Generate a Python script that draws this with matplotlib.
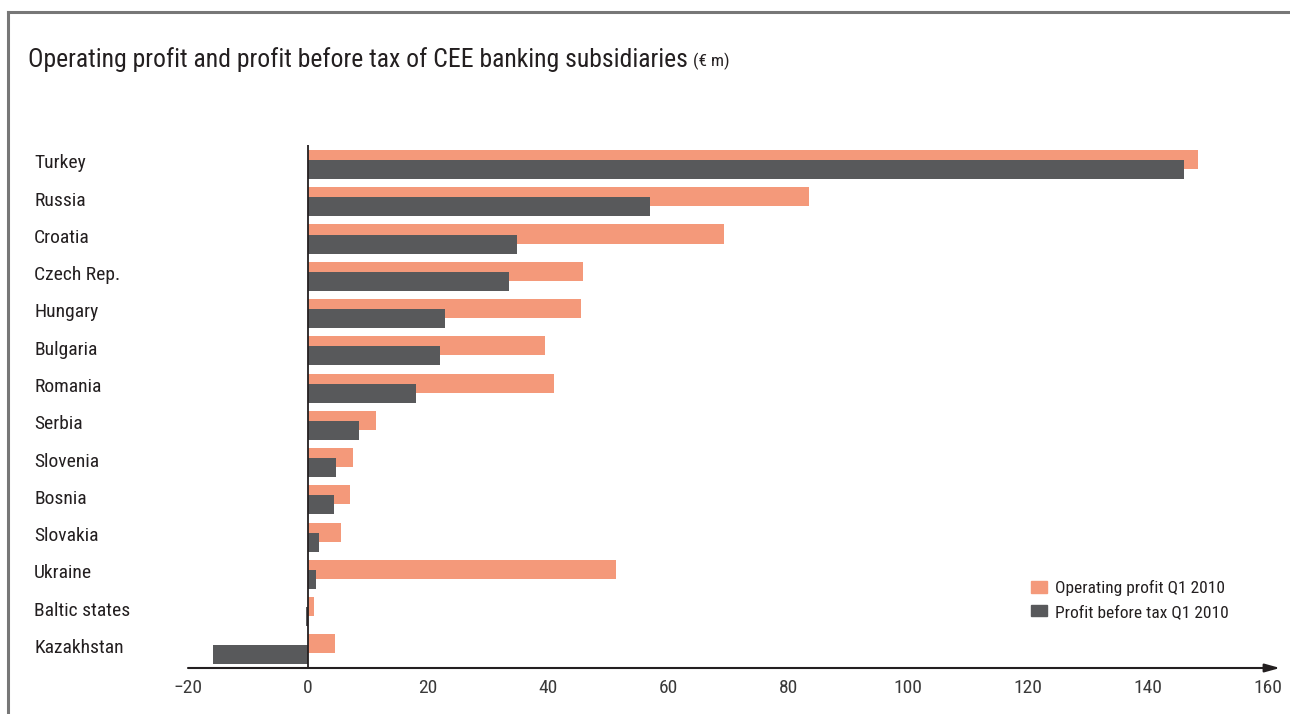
import matplotlib
matplotlib.use("Agg")
import matplotlib.pyplot as plt
from matplotlib import font_manager as fm
from matplotlib.font_manager import FontProperties
from matplotlib.patches import Patch
from matplotlib.lines import Line2D
import matplotlib.transforms as mtrans

# ---- pick a condensed sans font if one is installed ----
def pick_font():
    entries = fm.fontManager.ttflist
    prefs = [
        lambda f: f.name == "Liberation Sans Narrow" and f.weight in (400, "normal", "regular") and f.style == "normal",
        lambda f: f.name == "Roboto Condensed" and f.style == "normal" and f.weight in (400, "normal", "regular"),
        lambda f: f.name.startswith("Roboto") and "ondensed" in f.fname and f.style == "normal" and "Bold" not in f.fname and "Light" not in f.fname and "Italic" not in f.fname,
        lambda f: f.name.startswith("Noto Sans") and f.stretch in ("condensed", "semi-condensed") and f.style == "normal" and f.weight in (400, "normal", "regular"),
        lambda f: f.name.startswith("Open Sans") and f.stretch in ("condensed", "semi-condensed") and f.style == "normal" and f.weight in (400, "normal", "regular"),
        lambda f: f.name == "DejaVu Sans" and "Condensed" in f.fname and "Bold" not in f.fname and "Oblique" not in f.fname,
    ]
    for i, p in enumerate(prefs):
        for f in entries:
            try:
                if p(f):
                    return f.fname, i
            except Exception:
                pass
    return None, -1

FNAME, KIND = pick_font()

def fp(size):
    if FNAME:
        return FontProperties(fname=FNAME, size=size)
    return FontProperties(family="Liberation Sans", size=size)

countries = ["Turkey", "Russia", "Croatia", "Czech Rep.", "Hungary", "Bulgaria", "Romania",
             "Serbia", "Slovenia", "Bosnia", "Slovakia", "Ukraine", "Baltic states", "Kazakhstan"]
operating_profit = [148.3, 83.5, 69.3, 45.8, 45.5, 39.5, 41.0, 11.3, 7.5, 7.0, 5.5, 51.3, 1.0, 4.5]
profit_before_tax = [146.0, 57.0, 34.8, 33.5, 22.8, 22.0, 18.0, 8.5, 4.7, 4.3, 1.8, 1.3, -0.3, -15.8]
xticks = [-20, 0, 20, 40, 60, 80, 100, 120, 140, 160]
legend_labels = ["Operating profit Q1 2010", "Profit before tax Q1 2010"]

ORANGE = "#F4997A"
DARK = "#58595B"
TXT = "#231F20"

W, H = 1290, 714
fig = plt.figure(figsize=(W/100, H/100), dpi=100)
ax = fig.add_axes([188/W, 1-668/H, (1280-188)/W, (668-145)/H])

ypos = list(range(len(countries)))
bh = 0.51
off = 0.135
ax.barh([y - off for y in ypos], operating_profit, height=bh, color=ORANGE, zorder=2)
ax.barh([y + off for y in ypos], profit_before_tax, height=bh, color=DARK, zorder=3)

ax.set_xlim(-20, 162)
ax.set_ylim(13.51, -0.523)
for s in ax.spines.values():
    s.set_visible(False)
ax.set_yticks([])
ax.set_xticks(xticks)
ax.set_xticklabels([f"{v}".replace("-", "\u2212") for v in xticks], fontproperties=fp(14), color="#3a3a3a")
ax.tick_params(axis='x', length=0, pad=8)

ax.axvline(0, color=TXT, lw=1.3, zorder=4)
ax.annotate('', xy=(1, 0), xytext=(0, 0), xycoords='axes fraction',
            arrowprops=dict(arrowstyle='-|>,head_length=0.9,head_width=0.25', color=TXT, lw=1.5,
                            shrinkA=0, shrinkB=0), zorder=5)

tr = mtrans.blended_transform_factory(fig.transFigure, ax.transData)
for y, c in zip(ypos, countries):
    ax.text(34/W, y - 0.03, c, transform=tr, ha='left', va='center', fontproperties=fp(14), color=TXT)

# frame
fig.add_artist(Line2D([8/W, 8/W], [0, 1-12/H], color="#777777", lw=2.2, transform=fig.transFigure))
fig.add_artist(Line2D([8/W, 1], [1-12/H, 1-12/H], color="#777777", lw=2.2, transform=fig.transFigure))

t = fig.text(28/W, 1-60/H, "Operating profit and profit before tax of CEE banking subsidiaries",
             fontproperties=fp(18.5), color=TXT, va='center', ha='left')
fig.canvas.draw()
bb = t.get_window_extent()
fig.text((bb.x1 + 5)/W, 1-61/H, "(€ m)", fontproperties=fp(12.5), color=TXT, va='center', ha='left')

handles = [Patch(color=ORANGE, label=legend_labels[0]),
           Patch(color=DARK, label=legend_labels[1])]
leg = fig.legend(handles=handles, loc='upper left', bbox_to_anchor=(1031/W, 1-580/H), frameon=False,
                 prop=fp(12.5), handlelength=0.92, handleheight=0.65, handletextpad=0.45, labelspacing=0.5,
                 borderpad=0, borderaxespad=0, labelcolor=TXT)

fig.savefig("out.png", dpi=100)
